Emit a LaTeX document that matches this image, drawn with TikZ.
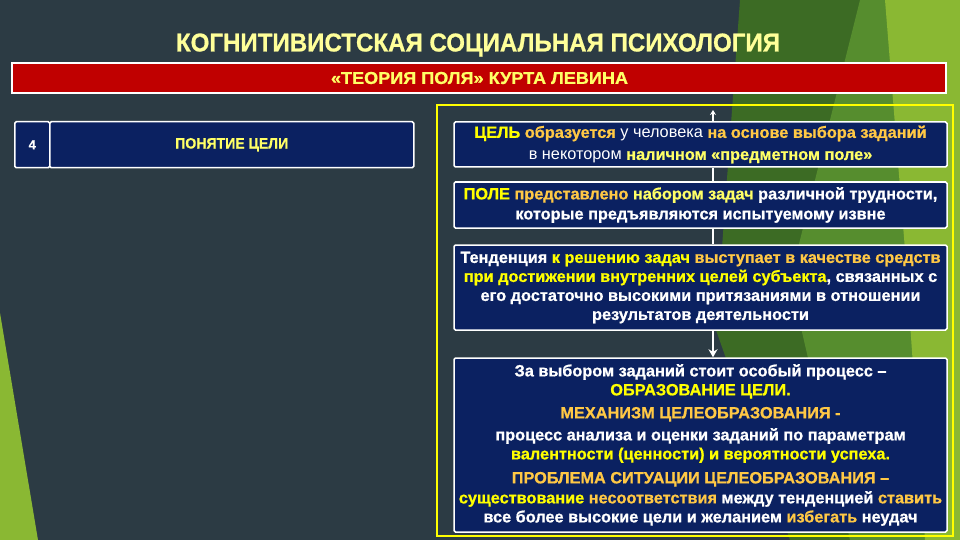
\documentclass[tikz,border=0pt]{standalone}
\usepackage{fontspec}
\setmainfont[BoldFeatures={FakeBold=0.8}]{Liberation Sans}
\usepackage{graphicx}
\usetikzlibrary{arrows.meta}
\definecolor{bg}{HTML}{2C3B44}
\definecolor{navy}{HTML}{0B2161}
\definecolor{redbar}{HTML}{C00000}
\definecolor{yel}{HTML}{FFFF00}
\definecolor{lyel}{HTML}{FFFF66}
\definecolor{pyel}{HTML}{FFFF99}
\definecolor{gold}{HTML}{FFC845}
\definecolor{gdark}{HTML}{3C6B24}
\definecolor{gmid}{HTML}{5D9631}
\definecolor{glime}{HTML}{8AB833}
\begin{document}
\begin{tikzpicture}[x=1pt,y=-1pt,
  boxstyle/.style={draw=white, line width=1.5pt, fill=navy, rounded corners=1.5pt,
    inner sep=0pt, align=center, text=white,
    font=\bfseries\fontsize{16.3}{19}\selectfont},
  plain/.style={inner sep=0pt},
  link/.style={draw=white, line width=2pt},
  arr/.style={link, -{Stealth[length=8pt,width=9pt]}}]
\useasboundingbox (0,0) rectangle (960,540);
% background
\fill[bg] (0,0) rectangle (960,540);
\fill[gdark] (740,0) -- (960,0) -- (960,540) -- (790,540) -- (716,330) -- cycle;
\fill[gmid, opacity=0.8] (860,0) -- (960,0) -- (960,540) -- (850,540) -- (790,280) -- cycle;
\fill[glime] (885,0) -- (960,0) -- (960,540) -- (925,540) -- (905,250) -- cycle;
\fill[glime] (0,313) -- (38,540) -- (0,540) -- cycle;
% title
\node[plain, text=pyel] (title) at (478,45)
  {\resizebox{604pt}{18pt}{\bfseries КОГНИТИВИСТСКАЯ СОЦИАЛЬНАЯ ПСИХОЛОГИЯ}};
\node[draw=white, line width=1.5pt, fill=redbar, minimum width=934pt, minimum height=30pt,
  inner sep=0pt] (bar) at (479,78) {};
\node[plain, text=lyel] (subtitle) at (479.5,78)
  {\resizebox{297pt}{12pt}{\bfseries «ТЕОРИЯ ПОЛЯ» КУРТА ЛЕВИНА}};
% yellow frame
\draw[yel, line width=2.5pt] (437,105) rectangle (953,536);
% left box
\node[boxstyle, minimum width=35pt, minimum height=46pt, anchor=north west] (num) at (14,121)
  {\fontsize{13}{15}\selectfont 4};
\node[boxstyle, minimum width=364pt, minimum height=46pt, anchor=north west] (concept) at (49,121)
  {\textcolor{lyel}{\resizebox{113pt}{10.5pt}{ПОНЯТИЕ ЦЕЛИ}}};
% right boxes
\node[boxstyle, minimum width=493pt, minimum height=45pt] (b1) at (700.5,144.5)
  {\textcolor{yel}{ЦЕЛЬ} \textcolor{gold}{образуется} {\mdseries у человека} \textcolor{gold}{на основе выбора заданий}\\[3pt]
   {\mdseries в некотором} \textcolor{lyel}{наличном «предметном поле»}};
\node[boxstyle, minimum width=493pt, minimum height=46pt] (b2) at (700.5,205)
  {\textcolor{yel}{ПОЛЕ} \textcolor{gold}{представлено} \textcolor{lyel}{набором задач} различной трудности,\\[1pt]
   которые предъявляются испытуемому извне};
\node[boxstyle, minimum width=493pt, minimum height=85pt] (b3) at (700.5,287.5)
  {Тенденция \textcolor{yel}{к решению задач} \textcolor{gold}{выступает в качестве средств}\\
   \textcolor{yel}{при достижении внутренних целей субъекта}, связанных с\\
   его достаточно высокими притязаниями в отношении\\
   результатов деятельности};
\node[boxstyle, minimum width=493pt, minimum height=174pt] (b4) at (700.5,445)
  {За выбором заданий стоит особый процесс –\\
   \textcolor{yel}{ОБРАЗОВАНИЕ ЦЕЛИ.}\\[4pt]
   \textcolor{gold}{МЕХАНИЗМ ЦЕЛЕОБРАЗОВАНИЯ -}\\[3pt]
   процесс анализа и оценки заданий по параметрам\\
   \textcolor{yel}{валентности (ценности) и вероятности успеха.}\\[5pt]
   \textcolor{gold}{ПРОБЛЕМА СИТУАЦИИ ЦЕЛЕОБРАЗОВАНИЯ –}\\[1pt]
   \textcolor{yel}{существование} \textcolor{gold}{несоответствия} между тенденцией \textcolor{gold}{ставить}\\
   все более высокие цели и желанием \textcolor{gold}{избегать} неудач};
% connectors
\coordinate (topend) at (713,110);
\draw[link, -{Stealth[length=5pt,width=6pt]}] ([xshift=12.5pt]b1.north) -- (topend);
\draw[link] ([xshift=12.5pt]b1.south) -- ([xshift=12.5pt]b2.north);
\draw[link] ([xshift=12.5pt]b2.south) -- ([xshift=12.5pt]b3.north);
\draw[arr] ([xshift=12.5pt]b3.south) -- ([xshift=12.5pt]b4.north);
\end{tikzpicture}
\end{document}
